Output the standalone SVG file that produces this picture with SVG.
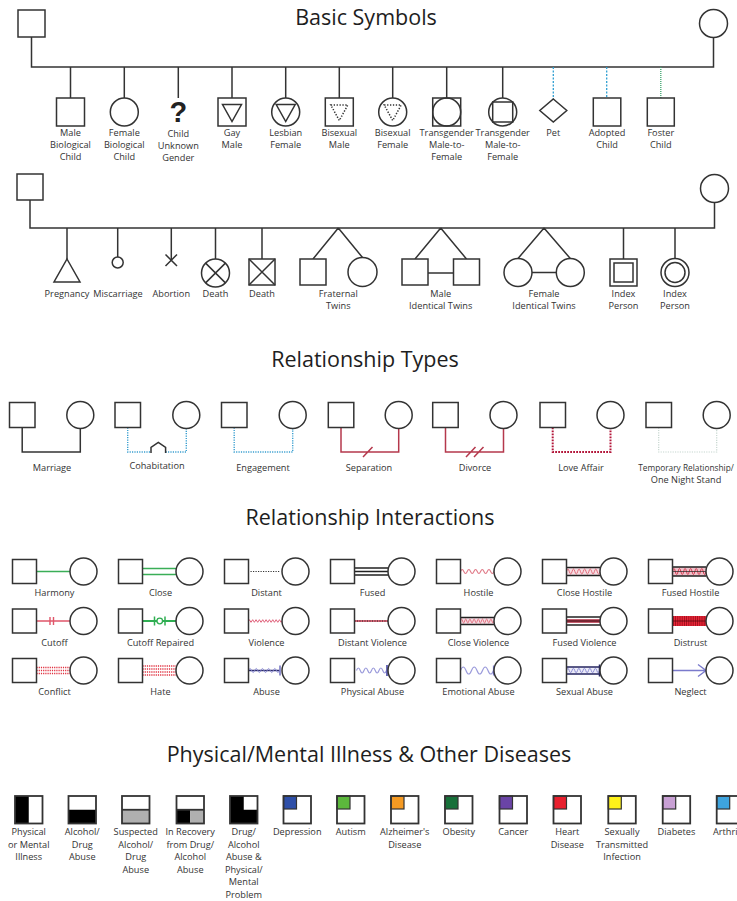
<svg xmlns="http://www.w3.org/2000/svg" width="737" height="901" viewBox="0 0 737 901">
<style>
.ln{fill:none;stroke:#333;stroke-width:1.5}
.sh{fill:#fff;stroke:#333;stroke-width:1.5}
.nf{fill:none;stroke:#333;stroke-width:1.5}
.lb{font-family:"Open Sans","Liberation Sans",sans-serif;font-size:9.2px;fill:#333;text-anchor:middle}
.tt{font-family:"Open Sans","Liberation Sans",sans-serif;font-size:21.5px;fill:#1e1e1e;text-anchor:middle}
.blu{fill:none;stroke:#2f9fd2;stroke-width:1.3;stroke-dasharray:2 1.5}
.blu2{fill:none;stroke:#3a9fd0;stroke-width:1.4;stroke-dasharray:1.2 1.2}
.grn{fill:none;stroke:#3aa36a;stroke-width:1.3;stroke-dasharray:1 1}
.red{fill:none;stroke:#b5384c;stroke-width:1.5}
.bo{fill:none;stroke:#333;stroke-width:1.8}
.wb{fill:#fff}
.k{stroke:#222;stroke-width:1.3;fill:none}
</style>
<rect width="737" height="901" fill="#fff"/>

<!-- ===== Basic Symbols ===== -->
<text class="tt" x="366" y="25">Basic Symbols</text>
<g id="connectors-basic">
<path class="ln" d="M31.5,37V67H713.5V37.5"/>
<path class="ln" d="M70.5,67V98M124.3,67V98M178.3,67V98M232,67V98M285.7,67V98M339.3,67V98M392.7,67V98M446.7,67V98M502.7,67V98"/>
<path class="blu" d="M553.3,67V99M606.7,67V98"/>
<path class="grn" d="M660.8,67V98"/>
</g>
<g id="father-1"><rect class="sh" x="18" y="10" width="27" height="27"/></g>
<g id="mother-1"><circle class="sh" cx="713.5" cy="23.5" r="14"/></g>
<g id="male-bio-child"><rect class="sh" x="56.5" y="98" width="28" height="28"/><text class="lb" x="70.5" y="136">Male<tspan x="70.5" dy="12.2">Biological</tspan><tspan x="70.5" dy="12.2">Child</tspan></text></g>
<g id="female-bio-child"><circle class="sh" cx="124.3" cy="112" r="14"/><text class="lb" x="124.3" y="136">Female<tspan x="124.3" dy="12.2">Biological</tspan><tspan x="124.3" dy="12.2">Child</tspan></text></g>
<g id="child-unknown"><text x="178.3" y="121.5" font-family="Liberation Sans, sans-serif" font-size="29" font-weight="700" text-anchor="middle" fill="#222">?</text><text class="lb" x="178.3" y="136.5">Child<tspan x="178.3" dy="12">Unknown</tspan><tspan x="178.3" dy="12">Gender</tspan></text></g>
<g id="gay-male"><rect class="sh" x="218" y="98" width="28" height="28"/><path class="nf" d="M222.5,104.5H241.5L232,121.5Z"/><text class="lb" x="232" y="136">Gay<tspan x="232" dy="12.2">Male</tspan></text></g>
<g id="lesbian-female"><circle class="sh" cx="285.7" cy="112" r="14"/><path class="nf" d="M276.2,104.5H295.2L285.7,121.5Z"/><text class="lb" x="285.7" y="136">Lesbian<tspan x="285.7" dy="12.2">Female</tspan></text></g>
<g id="bisexual-male"><rect class="sh" x="325.3" y="98" width="28" height="28"/><path class="nf" stroke-width="1.2" stroke-dasharray="1.3 1.6" d="M330.8,105H347.8L339.3,120.5Z"/><text class="lb" x="339.3" y="136">Bisexual<tspan x="339.3" dy="12.2">Male</tspan></text></g>
<g id="bisexual-female"><circle class="sh" cx="392.7" cy="112" r="14"/><path class="nf" stroke-width="1.2" stroke-dasharray="1.3 1.6" d="M384.2,105H401.2L392.7,120.5Z"/><text class="lb" x="392.7" y="136">Bisexual<tspan x="392.7" dy="12.2">Female</tspan></text></g>
<g id="transgender-1"><rect class="sh" x="432.7" y="98" width="28" height="28"/><circle class="nf" cx="446.7" cy="112" r="14"/><text class="lb" x="446.7" y="136">Transgender<tspan x="446.7" dy="12.2">Male-to-</tspan><tspan x="446.7" dy="12.2">Female</tspan></text></g>
<g id="transgender-2"><circle class="sh" cx="502.7" cy="112" r="14"/><rect class="nf" x="492.7" y="102" width="20" height="20"/><text class="lb" x="502.7" y="136">Transgender<tspan x="502.7" dy="12.2">Male-to-</tspan><tspan x="502.7" dy="12.2">Female</tspan></text></g>
<g id="pet"><path class="sh" d="M553.3,99L566.8,110.5L553.3,122L539.8,110.5Z"/><text class="lb" x="553.3" y="136">Pet</text></g>
<g id="adopted-child"><rect class="sh" x="593.3" y="98" width="27.5" height="28"/><text class="lb" x="607" y="136">Adopted<tspan x="607" dy="12.2">Child</tspan></text></g>
<g id="foster-child"><rect class="sh" x="647.3" y="98" width="27" height="28"/><text class="lb" x="660.8" y="136">Foster<tspan x="660.8" dy="12.2">Child</tspan></text></g>

<!-- ===== Row 2 ===== -->
<g id="connectors-row2">
<path class="ln" d="M30,200V228H714.5V202.5"/>
<path class="ln" d="M67,228V259M117.7,228V257M171.3,228V260.5M215.5,228V259M262,228V259M338.3,228L313,259M338.3,228L362.5,257.5M440.7,228L415,259M440.7,228L466.5,259M544,228L518,258.5M544,228L570.3,258.5M623.5,228V259M675,228V258.5"/>
<path class="ln" d="M428,273H453.5M532,272.5H556.3"/>
</g>
<g id="father-2"><rect class="sh" x="17" y="174" width="26" height="26"/></g>
<g id="mother-2"><circle class="sh" cx="714.5" cy="188.5" r="14"/></g>
<g id="pregnancy"><path class="sh" d="M67,259L80,282H54Z"/><text class="lb" x="67" y="296.5">Pregnancy</text></g>
<g id="miscarriage"><circle class="sh" cx="117.7" cy="262.5" r="5.5"/><text class="lb" x="118" y="296.5">Miscarriage</text></g>
<g id="abortion"><path class="nf" d="M165.5,254.5L177,266M177,254.5L165.5,266"/><text class="lb" x="171.3" y="296.5">Abortion</text></g>
<g id="death-female"><circle class="sh" cx="215.5" cy="273" r="14"/><path class="nf" d="M205.6,263.1L225.4,282.9M225.4,263.1L205.6,282.9"/><text class="lb" x="215.5" y="296.5">Death</text></g>
<g id="death-male"><rect class="sh" x="249" y="259" width="26" height="26"/><path class="nf" d="M249,259L275,285M275,259L249,285"/><text class="lb" x="262" y="296.5">Death</text></g>
<g id="fraternal-twins"><rect class="sh" x="300" y="259" width="26" height="26"/><circle class="sh" cx="362.5" cy="272" r="14.5"/><text class="lb" x="338.3" y="296.5">Fraternal<tspan x="338.3" dy="12">Twins</tspan></text></g>
<g id="male-identical-twins"><rect class="sh" x="402" y="259" width="26" height="26"/><rect class="sh" x="453.5" y="259" width="26" height="26"/><text class="lb" x="440.7" y="296.5">Male<tspan x="440.7" dy="12">Identical Twins</tspan></text></g>
<g id="female-identical-twins"><circle class="sh" cx="518" cy="272.5" r="14"/><circle class="sh" cx="570.3" cy="272.5" r="14"/><text class="lb" x="544" y="296.5">Female<tspan x="544" dy="12">Identical Twins</tspan></text></g>
<g id="index-male"><rect class="sh" x="610" y="259" width="27" height="27"/><rect class="nf" x="614" y="263" width="19" height="19"/><text class="lb" x="623.5" y="296.5">Index<tspan x="623.5" dy="12">Person</tspan></text></g>
<g id="index-female"><circle class="sh" cx="675" cy="272.5" r="14"/><circle class="nf" cx="675" cy="272.5" r="10"/><text class="lb" x="675" y="296.5">Index<tspan x="675" dy="12">Person</tspan></text></g>

<!-- ===== Relationship Types ===== -->
<text class="tt" x="365" y="367">Relationship Types</text>
<g id="connectors-types">
<path class="ln" d="M22.2,427.5V452H80.3V428.5"/>
<path class="blu2" d="M127.7,427.5V452H151M165.6,452H186.3V428.5"/>
<path class="nf" stroke-width="1.2" d="M151,453V447.5L158.3,442.5L165.6,447.5V453"/>
<path class="blu2" d="M234.2,427.5V452H292.7V428.5"/>
<path class="red" d="M341,427.5V452H398.7V428.5M363,457L372.5,447"/>
<path class="red" d="M445.5,427.5V452H503.5V428.5M466,457L475.5,447M474,457L483.5,447"/>
<path fill="none" stroke="#b3163a" stroke-width="2" stroke-dasharray="1.8 1.2" d="M552.7,427.5V452H610.5V428.5"/>
<path fill="none" stroke="#c6d6cf" stroke-width="1.2" stroke-dasharray="1.2 1.2" d="M658.7,427.5V452H716.7V428.5"/>
</g>
<g id="marriage"><rect class="sh" x="9.5" y="402.5" width="25.5" height="25"/><circle class="sh" cx="80.3" cy="415" r="13.5"/><text class="lb" x="52" y="471">Marriage</text></g>
<g id="cohabitation"><rect class="sh" x="115" y="402.5" width="25.5" height="25"/><circle class="sh" cx="186.3" cy="415" r="13.5"/><text class="lb" x="157" y="469">Cohabitation</text></g>
<g id="engagement"><rect class="sh" x="221.5" y="402.5" width="25.5" height="25"/><circle class="sh" cx="292.7" cy="415" r="13.5"/><text class="lb" x="263" y="471">Engagement</text></g>
<g id="separation"><rect class="sh" x="328.3" y="402.5" width="25.5" height="25"/><circle class="sh" cx="398.7" cy="415" r="13.5"/><text class="lb" x="369" y="471">Separation</text></g>
<g id="divorce"><rect class="sh" x="432.7" y="402.5" width="25.5" height="25"/><circle class="sh" cx="503.5" cy="415" r="13.5"/><text class="lb" x="475" y="471">Divorce</text></g>
<g id="love-affair"><rect class="sh" x="540" y="402.5" width="25.5" height="25"/><circle class="sh" cx="610.5" cy="415" r="13.5"/><text class="lb" x="581" y="471">Love Affair</text></g>
<g id="temporary"><rect class="sh" x="646" y="402.5" width="25.5" height="25"/><circle class="sh" cx="716.7" cy="415" r="13.5"/><text class="lb" x="686" y="471" style="font-size:8.3px">Temporary Relationship/</text><text class="lb" x="686" y="483">One Night Stand</text></g>

<!-- ===== Relationship Interactions ===== -->
<text class="tt" x="370" y="525">Relationship Interactions</text>
<g id="connectors-interactions">
<g transform="translate(12.5,559.5)"><path d="M24,12H57.5" stroke="#3aae57" stroke-width="1.6"/></g>
<g transform="translate(118.5,559.5)"><path d="M24,9H57.5M24,15H57.5" stroke="#3aae57" stroke-width="1.4"/></g>
<g transform="translate(224.5,559.5)"><path d="M26,12H56" stroke="#333" stroke-width="1.2" stroke-dasharray="1.2 1.3"/></g>
<g transform="translate(330.5,559.5)"><path class="k" d="M24,8.5H57.5M24,12H57.5M24,15.5H57.5"/></g>
<g transform="translate(436.5,559.5)"><path fill="none" stroke="#e07a88" stroke-width="1.1" d="M24,12q1.675,-4 3.35,0t3.35,0t3.35,0t3.35,0t3.35,0t3.35,0t3.35,0t3.35,0t3.35,0t3.35,0"/></g>
<g transform="translate(542.5,559.5)"><rect x="24" y="8" width="33.5" height="8" fill="#f6dde3"/><path fill="none" stroke="#e0606f" stroke-width="0.9" d="M24,12q1.396,-5 2.792,0t2.792,0t2.792,0t2.792,0t2.792,0t2.792,0t2.792,0t2.792,0t2.792,0t2.792,0t2.792,0t2.792,0"/><path class="k" d="M24,8H57.5M24,16H57.5"/></g>
<g transform="translate(648.5,559.5)"><rect x="24" y="7.5" width="33.5" height="9" fill="#eec2cb"/><path fill="none" stroke="#d8394f" stroke-width="1" d="M24,12q1.396,-6 2.792,0t2.792,0t2.792,0t2.792,0t2.792,0t2.792,0t2.792,0t2.792,0t2.792,0t2.792,0t2.792,0t2.792,0"/><path class="k" d="M24,7.5H57.5M24,16.5H57.5"/><path d="M24,12H57.5" stroke="#222" stroke-width="0.7"/></g>

<g transform="translate(12.5,609)"><path d="M24,12H57.5M37.5,8V16M41,8V16" stroke="#e0566a" stroke-width="1.4"/></g>
<g transform="translate(118.5,609)"><path d="M24,12H57.5" stroke="#2fae52" stroke-width="2"/><path d="M36,7.5V16.5M46.5,7.5V16.5" stroke="#2fae52" stroke-width="1.5"/><circle cx="41.25" cy="12" r="2.8" fill="#fff" stroke="#2fae52" stroke-width="1.3"/></g>
<g transform="translate(224.5,609)"><path fill="none" stroke="#e0607a" stroke-width="1" d="M24,12q0.8375,-2.6 1.675,0t1.675,0t1.675,0t1.675,0t1.675,0t1.675,0t1.675,0t1.675,0t1.675,0t1.675,0t1.675,0t1.675,0t1.675,0t1.675,0t1.675,0t1.675,0t1.675,0t1.675,0t1.675,0t1.675,0"/></g>
<g transform="translate(330.5,609)"><path d="M24,12H57.5" stroke="#c83048" stroke-width="1.6"/><path d="M24,12H57.5" stroke="#222" stroke-width="1" stroke-dasharray="1 1.5"/></g>
<g transform="translate(436.5,609)"><rect x="24" y="8.5" width="33.5" height="7" fill="#f6dde3"/><path fill="none" stroke="#e06a7a" stroke-width="0.9" d="M24,12q1.047,-4 2.094,0t2.094,0t2.094,0t2.094,0t2.094,0t2.094,0t2.094,0t2.094,0t2.094,0t2.094,0t2.094,0t2.094,0t2.094,0t2.094,0t2.094,0t2.094,0"/><path class="k" d="M24,8.5H57.5M24,15.5H57.5"/></g>
<g transform="translate(542.5,609)"><path d="M24,12H57.5" stroke="#b42a40" stroke-width="3.5"/><path class="k" d="M24,8H57.5M24,16H57.5"/><path d="M24,12H57.5" stroke="#222" stroke-width="0.8"/></g>
<g transform="translate(648.5,609)"><path d="M24.5,12H57.5" stroke="#e8283a" stroke-width="10"/><path d="M24.5,12H57.5" stroke="#9c0a18" stroke-width="10" stroke-dasharray="0.8 1.4"/><path d="M24.5,12H57.5" stroke="#5a0a10" stroke-width="0.8"/></g>

<g transform="translate(12.5,658.5)"><path d="M24,9H57.5M24,12H57.5M24,15H57.5" stroke="#e0303f" stroke-width="1.3" stroke-dasharray="1.2 1"/></g>
<g transform="translate(118.5,658.5)"><path d="M24,7.5H57.5M24,10.5H57.5M24,13.5H57.5M24,16.5H57.5" stroke="#e0303f" stroke-width="1.3" stroke-dasharray="1.2 1"/></g>
<g transform="translate(224.5,658.5)"><path d="M24,12H55" stroke="#30306e" stroke-width="1.5"/><path fill="none" stroke="#8f8fd6" stroke-width="1" d="M24,12q1.55,-4 3.1,0t3.1,0t3.1,0t3.1,0t3.1,0t3.1,0t3.1,0t3.1,0t3.1,0t3.1,0"/><path d="M55.5,7V17" stroke="#6f6fc0" stroke-width="1.5"/></g>
<g transform="translate(330.5,658.5)"><path fill="none" stroke="#9b9bdb" stroke-width="1.2" d="M26,12q1.875,-5 3.75,0t3.75,0t3.75,0t3.75,0t3.75,0t3.75,0t3.75,0t3.75,0"/><path d="M56.5,6.5V17.5" stroke="#5a5ab0" stroke-width="1.8"/></g>
<g transform="translate(436.5,658.5)"><path fill="none" stroke="#9b9bdb" stroke-width="1.2" d="M24,12q2.75,-7 5.5,0t5.5,0t5.5,0t5.5,0t5.5,0t5.5,0"/><path d="M57,7V17" stroke="#7b7bcc" stroke-width="1.2"/></g>
<g transform="translate(542.5,658.5)"><rect x="24" y="8.5" width="33" height="7" fill="#ececf8"/><path fill="none" stroke="#8f8fd6" stroke-width="1" d="M24,12q1.375,-4.5 2.75,0t2.75,0t2.75,0t2.75,0t2.75,0t2.75,0t2.75,0t2.75,0t2.75,0t2.75,0t2.75,0t2.75,0"/><path d="M24,8.5H57M24,15.5H57" stroke="#262660" stroke-width="1.3"/><path d="M57,6V18" stroke="#262660" stroke-width="1.5"/></g>
<g transform="translate(648.5,658.5)"><path d="M24,12H57M49.5,6L57.5,12L49.5,18" fill="none" stroke="#7a7acc" stroke-width="1.4"/></g>
</g>

<g id="harmony" transform="translate(12.5,559.5)"><rect class="sh" width="24" height="24"/><circle class="sh" cx="71" cy="12" r="13.5"/><text class="lb" x="42" y="36.5">Harmony</text></g>
<g id="close" transform="translate(118.5,559.5)"><rect class="sh" width="24" height="24"/><circle class="sh" cx="71" cy="12" r="13.5"/><text class="lb" x="42" y="36.5">Close</text></g>
<g id="distant" transform="translate(224.5,559.5)"><rect class="sh" width="24" height="24"/><circle class="sh" cx="71" cy="12" r="13.5"/><text class="lb" x="42" y="36.5">Distant</text></g>
<g id="fused" transform="translate(330.5,559.5)"><rect class="sh" width="24" height="24"/><circle class="sh" cx="71" cy="12" r="13.5"/><text class="lb" x="42" y="36.5">Fused</text></g>
<g id="hostile" transform="translate(436.5,559.5)"><rect class="sh" width="24" height="24"/><circle class="sh" cx="71" cy="12" r="13.5"/><text class="lb" x="42" y="36.5">Hostile</text></g>
<g id="close-hostile" transform="translate(542.5,559.5)"><rect class="sh" width="24" height="24"/><circle class="sh" cx="71" cy="12" r="13.5"/><text class="lb" x="42" y="36.5">Close Hostile</text></g>
<g id="fused-hostile" transform="translate(648.5,559.5)"><rect class="sh" width="24" height="24"/><circle class="sh" cx="71" cy="12" r="13.5"/><text class="lb" x="42" y="36.5">Fused Hostile</text></g>

<g id="cutoff" transform="translate(12.5,609)"><rect class="sh" width="24" height="24"/><circle class="sh" cx="71" cy="12" r="13.5"/><text class="lb" x="42" y="36.5">Cutoff</text></g>
<g id="cutoff-repaired" transform="translate(118.5,609)"><rect class="sh" width="24" height="24"/><circle class="sh" cx="71" cy="12" r="13.5"/><text class="lb" x="42" y="36.5">Cutoff Repaired</text></g>
<g id="violence" transform="translate(224.5,609)"><rect class="sh" width="24" height="24"/><circle class="sh" cx="71" cy="12" r="13.5"/><text class="lb" x="42" y="36.5">Violence</text></g>
<g id="distant-violence" transform="translate(330.5,609)"><rect class="sh" width="24" height="24"/><circle class="sh" cx="71" cy="12" r="13.5"/><text class="lb" x="42" y="36.5">Distant Violence</text></g>
<g id="close-violence" transform="translate(436.5,609)"><rect class="sh" width="24" height="24"/><circle class="sh" cx="71" cy="12" r="13.5"/><text class="lb" x="42" y="36.5">Close Violence</text></g>
<g id="fused-violence" transform="translate(542.5,609)"><rect class="sh" width="24" height="24"/><circle class="sh" cx="71" cy="12" r="13.5"/><text class="lb" x="42" y="36.5">Fused Violence</text></g>
<g id="distrust" transform="translate(648.5,609)"><rect class="sh" width="24" height="24"/><circle class="sh" cx="71" cy="12" r="13.5"/><text class="lb" x="42" y="36.5">Distrust</text></g>

<g id="conflict" transform="translate(12.5,658.5)"><rect class="sh" width="24" height="24"/><circle class="sh" cx="71" cy="12" r="13.5"/><text class="lb" x="42" y="36.5">Conflict</text></g>
<g id="hate" transform="translate(118.5,658.5)"><rect class="sh" width="24" height="24"/><circle class="sh" cx="71" cy="12" r="13.5"/><text class="lb" x="42" y="36.5">Hate</text></g>
<g id="abuse" transform="translate(224.5,658.5)"><rect class="sh" width="24" height="24"/><circle class="sh" cx="71" cy="12" r="13.5"/><text class="lb" x="42" y="36.5">Abuse</text></g>
<g id="physical-abuse" transform="translate(330.5,658.5)"><rect class="sh" width="24" height="24"/><circle class="sh" cx="71" cy="12" r="13.5"/><text class="lb" x="42" y="36.5">Physical Abuse</text></g>
<g id="emotional-abuse" transform="translate(436.5,658.5)"><rect class="sh" width="24" height="24"/><circle class="sh" cx="71" cy="12" r="13.5"/><text class="lb" x="42" y="36.5">Emotional Abuse</text></g>
<g id="sexual-abuse" transform="translate(542.5,658.5)"><rect class="sh" width="24" height="24"/><circle class="sh" cx="71" cy="12" r="13.5"/><text class="lb" x="42" y="36.5">Sexual Abuse</text></g>
<g id="neglect" transform="translate(648.5,658.5)"><rect class="sh" width="24" height="24"/><circle class="sh" cx="71" cy="12" r="13.5"/><text class="lb" x="42" y="36.5">Neglect</text></g>

<!-- ===== Diseases ===== -->
<text class="tt" x="369" y="762">Physical/Mental Illness &amp; Other Diseases</text>
<g id="d-physical"><rect class="wb" x="15" y="796" width="27.5" height="27.5"/><rect x="15" y="796" width="13.75" height="27.5" fill="#000"/><rect class="bo" x="15" y="796" width="27.5" height="27.5"/><text class="lb" x="28.75" y="835">Physical<tspan x="28.75" dy="12.5">or Mental</tspan><tspan x="28.75" dy="12.5">Illness</tspan></text></g>
<g id="d-alcohol"><rect class="wb" x="68.5" y="796" width="27.5" height="27.5"/><rect x="68.5" y="809.75" width="27.5" height="13.75" fill="#000"/><rect class="bo" x="68.5" y="796" width="27.5" height="27.5"/><text class="lb" x="82.25" y="835">Alcohol/<tspan x="82.25" dy="12.5">Drug</tspan><tspan x="82.25" dy="12.5">Abuse</tspan></text></g>
<g id="d-suspected"><rect class="wb" x="122" y="796" width="27.5" height="27.5"/><rect x="122" y="809.75" width="27.5" height="13.75" fill="#b0b0b0"/><path class="bo" d="M122,809.75H149.5"/><rect class="bo" x="122" y="796" width="27.5" height="27.5"/><text class="lb" x="135.75" y="835">Suspected<tspan x="135.75" dy="12.5">Alcohol/</tspan><tspan x="135.75" dy="12.5">Drug</tspan><tspan x="135.75" dy="12.5">Abuse</tspan></text></g>
<g id="d-recovery"><rect class="wb" x="176.5" y="796" width="27.5" height="27.5"/><rect x="176.5" y="809.75" width="13.75" height="13.75" fill="#000"/><rect x="190.25" y="809.75" width="13.75" height="13.75" fill="#b0b0b0"/><path class="bo" d="M176.5,809.75H204"/><rect class="bo" x="176.5" y="796" width="27.5" height="27.5"/><text class="lb" x="190.25" y="835">In Recovery<tspan x="190.25" dy="12.5">from Drug/</tspan><tspan x="190.25" dy="12.5">Alcohol</tspan><tspan x="190.25" dy="12.5">Abuse</tspan></text></g>
<g id="d-drug-mental"><rect class="wb" x="230" y="796" width="27.5" height="27.5"/><path d="M230,796H243.75V809.75H257.5V823.5H230Z" fill="#000"/><rect class="bo" x="230" y="796" width="27.5" height="27.5"/><text class="lb" x="243.75" y="835">Drug/<tspan x="243.75" dy="12.5">Alcohol</tspan><tspan x="243.75" dy="12.5">Abuse &amp;</tspan><tspan x="243.75" dy="12.5">Physical/</tspan><tspan x="243.75" dy="12.5">Mental</tspan><tspan x="243.75" dy="12.5">Problem</tspan></text></g>
<g id="d-depression"><rect class="wb" x="283.5" y="796" width="27.5" height="27.5"/><rect x="283.5" y="796" width="13" height="13" fill="#2e4fa8" stroke="#333" stroke-width="1.2"/><rect class="bo" x="283.5" y="796" width="27.5" height="27.5"/><text class="lb" x="297.25" y="835">Depression</text></g>
<g id="d-autism"><rect class="wb" x="337" y="796" width="27.5" height="27.5"/><rect x="337" y="796" width="13" height="13" fill="#5cb83c" stroke="#333" stroke-width="1.2"/><rect class="bo" x="337" y="796" width="27.5" height="27.5"/><text class="lb" x="350.75" y="835">Autism</text></g>
<g id="d-alzheimers"><rect class="wb" x="391" y="796" width="27.5" height="27.5"/><rect x="391" y="796" width="13" height="13" fill="#f59a23" stroke="#333" stroke-width="1.2"/><rect class="bo" x="391" y="796" width="27.5" height="27.5"/><text class="lb" x="404.75" y="835">Alzheimer's<tspan x="404.75" dy="12.5">Disease</tspan></text></g>
<g id="d-obesity"><rect class="wb" x="445" y="796" width="27.5" height="27.5"/><rect x="445" y="796" width="13" height="13" fill="#17703a" stroke="#333" stroke-width="1.2"/><rect class="bo" x="445" y="796" width="27.5" height="27.5"/><text class="lb" x="458.75" y="835">Obesity</text></g>
<g id="d-cancer"><rect class="wb" x="499.5" y="796" width="27.5" height="27.5"/><rect x="499.5" y="796" width="13" height="13" fill="#6a44a6" stroke="#333" stroke-width="1.2"/><rect class="bo" x="499.5" y="796" width="27.5" height="27.5"/><text class="lb" x="513.25" y="835">Cancer</text></g>
<g id="d-heart"><rect class="wb" x="553.5" y="796" width="27.5" height="27.5"/><rect x="553.5" y="796" width="13" height="13" fill="#e8202e" stroke="#333" stroke-width="1.2"/><rect class="bo" x="553.5" y="796" width="27.5" height="27.5"/><text class="lb" x="567.25" y="835">Heart<tspan x="567.25" dy="12.5">Disease</tspan></text></g>
<g id="d-sti"><rect class="wb" x="608.3" y="796" width="27.5" height="27.5"/><rect x="608.3" y="796" width="13" height="13" fill="#fff21a" stroke="#333" stroke-width="1.2"/><rect class="bo" x="608.3" y="796" width="27.5" height="27.5"/><text class="lb" x="622" y="835">Sexually<tspan x="622" dy="12.5">Transmitted</tspan><tspan x="622" dy="12.5">Infection</tspan></text></g>
<g id="d-diabetes"><rect class="wb" x="662.7" y="796" width="27.5" height="27.5"/><rect x="662.7" y="796" width="13" height="13" fill="#c8a0d4" stroke="#333" stroke-width="1.2"/><rect class="bo" x="662.7" y="796" width="27.5" height="27.5"/><text class="lb" x="676.45" y="835">Diabetes</text></g>
<g id="d-arthritis"><rect class="wb" x="716.7" y="796" width="27.5" height="27.5"/><rect x="716.7" y="796" width="13" height="13" fill="#3ea4de" stroke="#333" stroke-width="1.2"/><rect class="bo" x="716.7" y="796" width="27.5" height="27.5"/><text class="lb" x="713" y="835" style="text-anchor:start">Arthritis</text></g>
</svg>
